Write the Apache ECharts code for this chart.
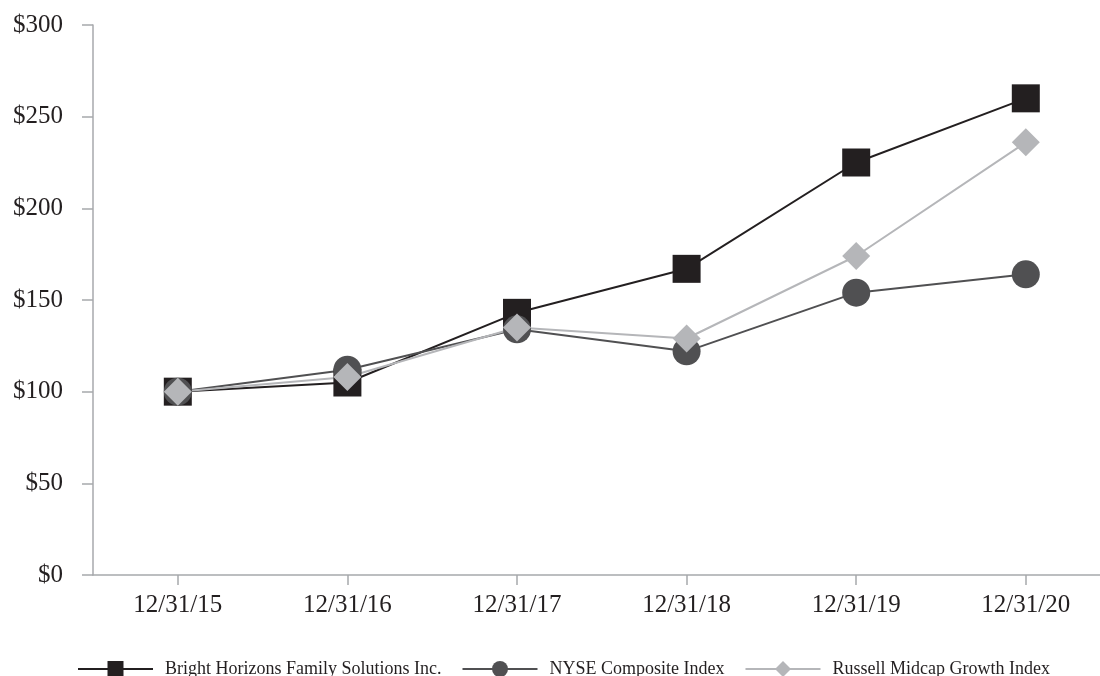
<!DOCTYPE html>
<html><head><meta charset="utf-8">
<script src="https://cdn.jsdelivr.net/npm/echarts@6/dist/echarts.min.js"></script>
<style>html,body{margin:0;padding:0;background:#fff}#c{width:1100px;height:676px}</style>
</head><body><div id="c"></div>
<script>
const categories = ['12/31/15','12/31/16','12/31/17','12/31/18','12/31/19','12/31/20'];
const brightHorizons = [100, 105, 143, 167, 225, 260];
const nyseComposite = [100, 112, 134, 122, 154, 164];
const russellMidcapGrowth = [100, 108, 135, 129, 174, 236];
const yTicks = [0, 50, 100, 150, 200, 250, 300];

const font = 'Liberation Serif';
const axisColor = '#a7a9ac';
const catIdx = categories.map((c, i) => i);
const chart = echarts.init(document.getElementById('c'));
function mk(name, data, color, symbol, size) {
  return {name, type:'line', data: data.map((v, i) => [i, v]), symbol, symbolSize:size, color,
    lineStyle:{color, width:2}, itemStyle:{color}};
}
chart.setOption({
  animation:false,
  grid:{left:93, right:0, top:25, bottom:101},
  xAxis:{type:'value', min:-0.5, max:5.4375,
    splitLine:{show:false},
    axisLine:{onZero:false, lineStyle:{color:axisColor, width:1.5}},
    axisTick:{customValues:catIdx, length:10, lineStyle:{color:axisColor, width:1.5}},
    axisLabel:{customValues:catIdx, formatter:v => categories[v], fontFamily:font, fontSize:25, color:'#231f20', margin:18}},
  yAxis:{type:'value', min:yTicks[0], max:yTicks[yTicks.length-1], interval:50,
    splitLine:{show:false},
    axisLine:{show:true, onZero:false, lineStyle:{color:axisColor, width:1.5}},
    axisTick:{show:true, length:11, lineStyle:{color:axisColor, width:1.5}},
    axisLabel:{fontFamily:font, fontSize:25, color:'#231f20', margin:30, formatter:v=>'$'+v}},
  legend:{top:655, left:72, itemWidth:75, itemHeight:20, itemGap:20,
    textStyle:{fontFamily:font, fontSize:18, color:'#231f20', padding:[0,0,0,7]},
    data:['Bright Horizons Family Solutions Inc.','NYSE Composite Index','Russell Midcap Growth Index']},
  series:[
    mk('Bright Horizons Family Solutions Inc.', brightHorizons, '#231f20', 'rect', 28),
    mk('NYSE Composite Index', nyseComposite, '#505052', 'circle', 28),
    mk('Russell Midcap Growth Index', russellMidcapGrowth, '#b5b6b9', 'diamond', 28)
  ]
});
</script></body></html>
